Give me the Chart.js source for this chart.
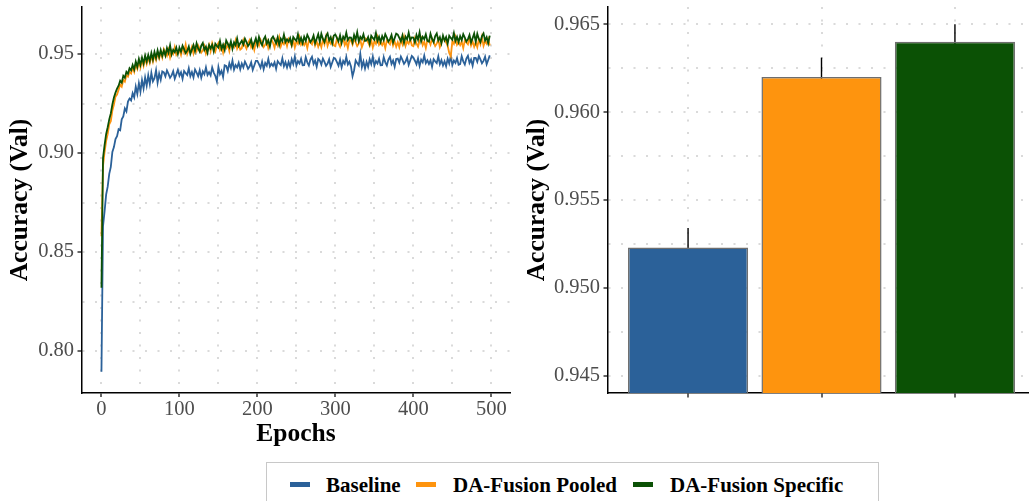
<!DOCTYPE html>
<html>
<head>
<meta charset="utf-8">
<script src="https://cdn.jsdelivr.net/npm/chart.js@4.4.1/dist/chart.umd.min.js"></script>
<style>
  body { margin: 0; width: 1029px; height: 501px; overflow: hidden; background: #fff; position: relative; font-family: 'Liberation Serif', serif; }
  #lineWrap { position: absolute; left: 0; top: 0; }
  #barWrap { position: absolute; left: 517px; top: 0; }
  #legend { position: absolute; left: 266px; top: 462px; width: 611px; height: 60px; border: 1px solid #c8c8c8; }
  #legend .key { position: absolute; top: 18.5px; width: 20px; height: 5px; }
  #legend .lab { position: absolute; top: 12px; font-size: 21px; line-height: 21px; font-weight: bold; color: #000; white-space: nowrap; }
</style>
</head>
<body>
<div id="lineWrap"><canvas id="lineChart" width="515" height="450"></canvas></div>
<div id="barWrap"><canvas id="barChart" width="520" height="450"></canvas></div>
<div id="legend">
  <div class="key" style="left:23px;background:#2b6199"></div><div class="lab" style="left:59px">Baseline</div>
  <div class="key" style="left:149px;background:#fe940e"></div><div class="lab" style="left:186px">DA-Fusion Pooled</div>
  <div class="key" style="left:366px;background:#0b5105"></div><div class="lab" style="left:403px">DA-Fusion Specific</div>
</div>
<script>
// validation accuracy per epoch (every 2nd epoch)
const epochs = [
  0,2,4,6,8,10,12,14,16,18,
  20,22,24,26,28,30,32,34,36,38,
  40,42,44,46,48,50,52,54,56,58,
  60,62,64,66,68,70,72,74,76,78,
  80,82,84,86,88,90,92,94,96,98,
  100,102,104,106,108,110,112,114,116,118,
  120,122,124,126,128,130,132,134,136,138,
  140,142,144,146,148,150,152,154,156,158,
  160,162,164,166,168,170,172,174,176,178,
  180,182,184,186,188,190,192,194,196,198,
  200,202,204,206,208,210,212,214,216,218,
  220,222,224,226,228,230,232,234,236,238,
  240,242,244,246,248,250,252,254,256,258,
  260,262,264,266,268,270,272,274,276,278,
  280,282,284,286,288,290,292,294,296,298,
  300,302,304,306,308,310,312,314,316,318,
  320,322,324,326,328,330,332,334,336,338,
  340,342,344,346,348,350,352,354,356,358,
  360,362,364,366,368,370,372,374,376,378,
  380,382,384,386,388,390,392,394,396,398,
  400,402,404,406,408,410,412,414,416,418,
  420,422,424,426,428,430,432,434,436,438,
  440,442,444,446,448,450,452,454,456,458,
  460,462,464,466,468,470,472,474,476,478,
  480,482,484,486,488,490,492,494,496,498
];

const baseline = [
  0.7895,0.8630,0.8705,0.8790,0.8830,0.8895,0.8930,0.9005,0.9030,0.9070,
  0.9085,0.9120,0.9115,0.9170,0.9185,0.9225,0.9210,0.9260,0.9275,0.9265,
  0.9302,0.9281,0.9335,0.9298,0.9352,0.9310,0.9368,0.9326,0.9381,0.9340,
  0.9392,0.9348,0.9405,0.9362,0.9378,0.9418,0.9355,0.9401,0.9370,0.9412,
  0.9407,0.9387,0.9417,0.9400,0.9380,0.9392,0.9413,0.9375,0.9397,0.9420,
  0.9390,0.9408,0.9375,0.9414,0.9403,0.9394,0.9428,0.9388,0.9409,0.9382,
  0.9422,0.9406,0.9388,0.9418,0.9380,0.9412,0.9398,0.9432,0.9394,0.9408,
  0.9392,0.9432,0.9406,0.9390,0.9362,0.9434,0.9398,0.9415,0.9384,0.9443,
  0.9440,0.9415,0.9453,0.9429,0.9467,0.9421,0.9444,0.9432,0.9456,0.9423,
  0.9452,0.9432,0.9462,0.9445,0.9425,0.9437,0.9458,0.9420,0.9442,0.9465,
  0.9465,0.9449,0.9431,0.9461,0.9423,0.9455,0.9441,0.9475,0.9437,0.9451,
  0.9440,0.9458,0.9425,0.9464,0.9453,0.9444,0.9478,0.9438,0.9459,0.9432,
  0.9460,0.9435,0.9473,0.9449,0.9487,0.9441,0.9464,0.9452,0.9476,0.9443,
  0.9444,0.9484,0.9458,0.9442,0.9472,0.9486,0.9450,0.9467,0.9436,0.9475,
  0.9467,0.9447,0.9477,0.9460,0.9440,0.9452,0.9473,0.9435,0.9457,0.9480,
  0.9475,0.9459,0.9441,0.9471,0.9433,0.9465,0.9451,0.9485,0.9447,0.9461,
  0.9437,0.9388,0.9418,0.9468,0.9454,0.9442,0.9500,0.9434,0.9462,0.9427,
  0.9460,0.9435,0.9473,0.9449,0.9487,0.9441,0.9464,0.9452,0.9476,0.9443,
  0.9444,0.9484,0.9458,0.9442,0.9472,0.9486,0.9450,0.9467,0.9436,0.9475,
  0.9477,0.9457,0.9487,0.9470,0.9450,0.9462,0.9483,0.9445,0.9467,0.9490,
  0.9482,0.9466,0.9448,0.9478,0.9440,0.9472,0.9458,0.9492,0.9454,0.9468,
  0.9450,0.9468,0.9435,0.9474,0.9463,0.9454,0.9488,0.9448,0.9469,0.9442,
  0.9463,0.9438,0.9476,0.9452,0.9490,0.9444,0.9467,0.9455,0.9479,0.9446,
  0.9449,0.9489,0.9463,0.9447,0.9477,0.9491,0.9455,0.9472,0.9441,0.9480,
  0.9480,0.9460,0.9490,0.9473,0.9453,0.9465,0.9486,0.9448,0.9470,0.9493
];

const pooled = [
  0.8580,0.8935,0.9005,0.9060,0.9095,0.9145,0.9160,0.9215,0.9245,0.9285,
  0.9295,0.9320,0.9345,0.9335,0.9368,0.9360,0.9392,0.9385,0.9410,0.9402,
  0.9432,0.9410,0.9448,0.9425,0.9460,0.9432,0.9470,0.9440,0.9478,0.9450,
  0.9482,0.9455,0.9492,0.9462,0.9498,0.9470,0.9505,0.9478,0.9510,0.9482,
  0.9525,0.9509,0.9491,0.9521,0.9483,0.9515,0.9501,0.9535,0.9497,0.9511,
  0.9520,0.9495,0.9533,0.9509,0.9547,0.9501,0.9524,0.9512,0.9536,0.9503,
  0.9534,0.9514,0.9544,0.9527,0.9507,0.9519,0.9540,0.9502,0.9524,0.9547,
  0.9514,0.9554,0.9528,0.9512,0.9542,0.9556,0.9520,0.9537,0.9506,0.9545,
  0.9530,0.9548,0.9515,0.9554,0.9543,0.9534,0.9568,0.9528,0.9549,0.9522,
  0.9529,0.9569,0.9543,0.9527,0.9557,0.9571,0.9535,0.9552,0.9521,0.9560,
  0.9562,0.9542,0.9572,0.9555,0.9535,0.9547,0.9568,0.9530,0.9552,0.9575,
  0.9557,0.9532,0.9570,0.9546,0.9584,0.9538,0.9561,0.9549,0.9573,0.9540,
  0.9575,0.9559,0.9541,0.9571,0.9533,0.9565,0.9551,0.9585,0.9547,0.9561,
  0.9545,0.9563,0.9530,0.9569,0.9558,0.9549,0.9583,0.9543,0.9564,0.9537,
  0.9560,0.9535,0.9573,0.9549,0.9587,0.9541,0.9564,0.9552,0.9576,0.9543,
  0.9539,0.9579,0.9553,0.9537,0.9567,0.9581,0.9545,0.9562,0.9531,0.9570,
  0.9567,0.9547,0.9577,0.9560,0.9540,0.9552,0.9573,0.9535,0.9557,0.9580,
  0.9575,0.9559,0.9541,0.9571,0.9533,0.9565,0.9551,0.9585,0.9547,0.9561,
  0.9545,0.9563,0.9530,0.9569,0.9558,0.9549,0.9583,0.9543,0.9564,0.9537,
  0.9560,0.9535,0.9573,0.9549,0.9587,0.9541,0.9564,0.9552,0.9576,0.9543,
  0.9539,0.9579,0.9553,0.9537,0.9567,0.9581,0.9545,0.9562,0.9531,0.9570,
  0.9567,0.9547,0.9577,0.9560,0.9540,0.9552,0.9573,0.9535,0.9557,0.9580,
  0.9575,0.9559,0.9541,0.9505,0.9488,0.9565,0.9551,0.9585,0.9547,0.9561,
  0.9545,0.9563,0.9530,0.9569,0.9558,0.9549,0.9583,0.9543,0.9564,0.9537,
  0.9560,0.9535,0.9573,0.9549,0.9587,0.9541,0.9564,0.9552,0.9576,0.9543
];

const specific = [
  0.8320,0.8975,0.9040,0.9095,0.9130,0.9170,0.9200,0.9245,0.9280,0.9305,
  0.9325,0.9340,0.9365,0.9355,0.9390,0.9380,0.9410,0.9400,0.9428,0.9418,
  0.9445,0.9422,0.9462,0.9435,0.9475,0.9445,0.9482,0.9452,0.9492,0.9462,
  0.9495,0.9465,0.9505,0.9472,0.9510,0.9480,0.9518,0.9486,0.9520,0.9490,
  0.9517,0.9492,0.9530,0.9506,0.9544,0.9498,0.9521,0.9509,0.9533,0.9500,
  0.9532,0.9512,0.9542,0.9525,0.9505,0.9517,0.9538,0.9500,0.9522,0.9545,
  0.9514,0.9554,0.9528,0.9512,0.9542,0.9556,0.9520,0.9537,0.9506,0.9545,
  0.9528,0.9546,0.9513,0.9552,0.9541,0.9532,0.9566,0.9526,0.9547,0.9520,
  0.9568,0.9552,0.9534,0.9564,0.9526,0.9558,0.9544,0.9578,0.9540,0.9554,
  0.9567,0.9547,0.9577,0.9560,0.9540,0.9552,0.9573,0.9535,0.9557,0.9580,
  0.9546,0.9586,0.9560,0.9544,0.9574,0.9588,0.9552,0.9569,0.9538,0.9577,
  0.9588,0.9572,0.9554,0.9584,0.9546,0.9578,0.9564,0.9598,0.9560,0.9574,
  0.9562,0.9580,0.9547,0.9586,0.9575,0.9566,0.9600,0.9560,0.9581,0.9554,
  0.9587,0.9567,0.9597,0.9580,0.9560,0.9572,0.9593,0.9555,0.9577,0.9600,
  0.9562,0.9602,0.9576,0.9560,0.9590,0.9604,0.9568,0.9585,0.9554,0.9593,
  0.9598,0.9582,0.9564,0.9594,0.9556,0.9588,0.9574,0.9608,0.9570,0.9584,
  0.9583,0.9558,0.9596,0.9572,0.9610,0.9564,0.9587,0.9575,0.9599,0.9566,
  0.9568,0.9586,0.9553,0.9592,0.9581,0.9572,0.9606,0.9566,0.9587,0.9560,
  0.9590,0.9570,0.9600,0.9583,0.9563,0.9575,0.9596,0.9558,0.9580,0.9603,
  0.9598,0.9582,0.9564,0.9594,0.9556,0.9588,0.9574,0.9608,0.9570,0.9584,
  0.9583,0.9558,0.9596,0.9572,0.9610,0.9564,0.9587,0.9575,0.9599,0.9566,
  0.9562,0.9602,0.9576,0.9560,0.9590,0.9604,0.9568,0.9585,0.9554,0.9593,
  0.9568,0.9586,0.9553,0.9592,0.9581,0.9572,0.9606,0.9566,0.9587,0.9560,
  0.9590,0.9570,0.9600,0.9583,0.9563,0.9575,0.9596,0.9558,0.9580,0.9603,
  0.9562,0.9602,0.9576,0.9560,0.9590,0.9604,0.9568,0.9585,0.9554,0.9593
];

const seriesNames = ['Baseline', 'DA-Fusion Pooled', 'DA-Fusion Specific'];
const seriesColors = ['#2b6199', '#fe940e', '#0b5105'];

// final accuracy (bar panel), mean and upper error
const barMeans = [0.9523, 0.9620, 0.9640];
const barErrors = [0.0011, 0.0011, 0.0010];

// axis ticks and grid
const epochTicks = [0, 100, 200, 300, 400, 500];
const epochGrid = [0, 50, 100, 150, 200, 250, 300, 350, 400, 450, 500];
const lineYTicks = [0.80, 0.85, 0.90, 0.95];
const lineYGrid = [0.800, 0.825, 0.850, 0.875, 0.900, 0.925, 0.950];
const barYTicks = [0.945, 0.950, 0.955, 0.960, 0.965];
const barYGrid = [0.945, 0.9475, 0.950, 0.9525, 0.955, 0.9575, 0.960, 0.9625, 0.965];

Chart.defaults.font.family = "'Liberation Serif', 'Times New Roman', serif";
Chart.defaults.animation = false;

const hasTick = (list, v) => list.some(t => Math.abs(t - v) < 1e-9);
const titleFont = { size: 25.5, weight: 'bold' };
const tickFont = { size: 20.5 };
const dotGrid = { color: '#dadada', lineWidth: 2, offset: false, tickWidth: 1.5, tickBorderDash: [] };
const axisBorder = { display: true, color: '#000', width: 1.5, dash: [2, 10.5] };

function tickColorFor(list) {
  return ctx => (ctx.tick && hasTick(list, ctx.tick.value)) ? '#333' : 'rgba(0,0,0,0)';
}
function fixSize(prop, size) {
  return scale => {
    scale[prop] = size;
    scale.paddingTop = 0; scale.paddingBottom = 0;
    scale.paddingLeft = 0; scale.paddingRight = 0;
  };
}

// left: accuracy per epoch
const lineData = [baseline, pooled, specific];
new Chart(document.getElementById('lineChart'), {
  type: 'line',
  data: {
    datasets: lineData.map((vals, i) => ({
      label: seriesNames[i],
      data: epochs.map((e, j) => ({ x: e, y: vals[j] })),
      borderColor: seriesColors[i],
      borderWidth: 1.8,
      pointRadius: 0,
      tension: 0,
      order: 3 - i
    }))
  },
  options: {
    responsive: false,
    devicePixelRatio: 1,
    layout: { padding: { top: 7, right: 5, left: 0, bottom: 0 } },
    plugins: { legend: { display: false }, tooltip: { enabled: false } },
    scales: {
      x: {
        type: 'linear',
        min: -24.95, max: 523.95,
        afterBuildTicks: s => { s.ticks = epochGrid.map(v => ({ value: v })); },
        afterFit: fixSize('height', 57),
        ticks: { autoSkip: false, maxRotation: 0, padding: 0, color: '#4d4d4d', font: tickFont,
                 callback: v => hasTick(epochTicks, v) ? String(v) : '' },
        grid: Object.assign({}, dotGrid, { tickLength: 4, tickColor: tickColorFor(epochTicks) }),
        border: axisBorder,
        title: { display: true, text: 'Epochs', color: '#000', font: titleFont, padding: { top: 0, bottom: 0 } }
      },
      y: {
        type: 'linear',
        min: 0.77879, max: 0.97374,
        afterBuildTicks: s => { s.ticks = lineYGrid.map(v => ({ value: v })); },
        afterFit: fixSize('width', 82),
        ticks: { autoSkip: false, padding: 3.5, color: '#4d4d4d', font: tickFont,
                 callback: v => hasTick(lineYTicks, v) ? v.toFixed(2) : '' },
        grid: Object.assign({}, dotGrid, { tickLength: 4.5, tickColor: tickColorFor(lineYTicks) }),
        border: axisBorder,
        title: { display: true, text: 'Accuracy (Val)', color: '#000', font: titleFont, padding: { top: 5, bottom: 0 } }
      }
    }
  }
});

// right: final accuracy with error bars
const barPositions = seriesNames.map((n, i) => i + 1);
const errorBars = {
  id: 'errorBars',
  beforeDatasetsDraw(chart) {
    const { ctx, chartArea, scales: { x, y } } = chart;
    ctx.save();
    ctx.beginPath();
    ctx.rect(chartArea.left, chartArea.top, chartArea.width, chartArea.height);
    ctx.clip();
    ctx.strokeStyle = '#000';
    ctx.lineWidth = 1.4;
    barMeans.forEach((m, i) => {
      const px = x.getPixelForValue(barPositions[i]);
      ctx.beginPath();
      ctx.moveTo(px, y.getPixelForValue(m - barErrors[i]));
      ctx.lineTo(px, y.getPixelForValue(m + barErrors[i]));
      ctx.stroke();
    });
    ctx.restore();
  }
};

new Chart(document.getElementById('barChart'), {
  type: 'bar',
  data: {
    datasets: [{
      label: 'Accuracy',
      data: barMeans.map((m, i) => ({ x: barPositions[i], y: m })),
      backgroundColor: seriesColors,
      borderColor: '#6e6e6e',
      borderWidth: 1.5,
      barPercentage: 0.9,
      categoryPercentage: 1
    }]
  },
  plugins: [errorBars],
  options: {
    responsive: false,
    devicePixelRatio: 1,
    layout: { padding: { top: 7, right: 2, left: 0, bottom: 0 } },
    plugins: { legend: { display: false }, tooltip: { enabled: false } },
    scales: {
      x: {
        type: 'linear',
        min: 0.4, max: 3.6,
        offset: false,
        afterBuildTicks: s => { s.ticks = barPositions.map(v => ({ value: v })); },
        afterFit: fixSize('height', 57),
        ticks: { autoSkip: false, maxRotation: 0, padding: 0, callback: () => '' },
        grid: Object.assign({}, dotGrid, { tickLength: 4.5, tickColor: '#333' }),
        border: axisBorder
      },
      y: {
        type: 'linear',
        min: 0.94402, max: 0.96598,
        afterBuildTicks: s => { s.ticks = barYGrid.map(v => ({ value: v })); },
        afterFit: fixSize('width', 91),
        ticks: { autoSkip: false, padding: 3.5, color: '#4d4d4d', font: tickFont,
                 callback: v => hasTick(barYTicks, v) ? v.toFixed(3) : '' },
        grid: Object.assign({}, dotGrid, { tickLength: 4.5, tickColor: tickColorFor(barYTicks) }),
        border: axisBorder,
        title: { display: true, text: 'Accuracy (Val)', color: '#000', font: titleFont, padding: { top: 5, bottom: 0 } }
      }
    }
  }
});
</script>
</body>
</html>
